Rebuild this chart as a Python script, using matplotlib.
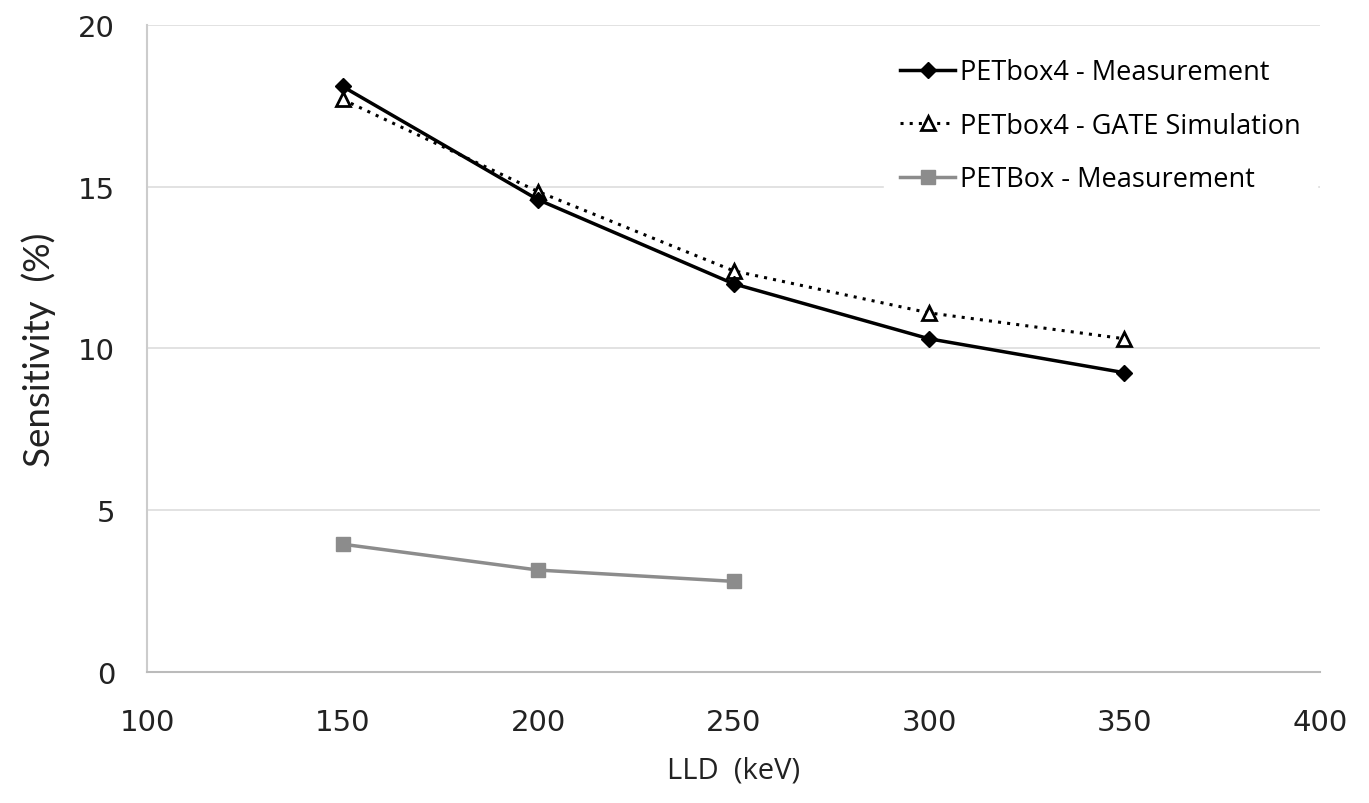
import matplotlib
matplotlib.use("Agg")
import matplotlib.pyplot as plt

# LLD energy thresholds (keV)
lld = [150, 200, 250, 300, 350]
lld_petbox = [150, 200, 250]

# sensitivity (%)
petbox4_meas = [18.1, 14.6, 12.0, 10.3, 9.25]
petbox4_gate = [17.7, 14.85, 12.4, 11.1, 10.3]
petbox_meas = [3.95, 3.15, 2.8]

xticks = [100, 150, 200, 250, 300, 350, 400]
yticks = [0, 5, 10, 15, 20]

fig = plt.figure(figsize=(13.69, 8.04), dpi=100)
ax = fig.add_axes([0.1074, 0.163, 0.8568, 0.8047])

ax.plot(lld, petbox4_meas, color="black", lw=2.5, marker="D", ms=8,
        mfc="black", mec="black", label="PETbox4 - Measurement", zorder=4)
ax.plot(lld, petbox4_gate, color="black", lw=2.2, ls=(0, (1, 2)), marker="^", ms=10,
        mfc="white", mec="black", mew=2.0, label="PETbox4 - GATE Simulation", zorder=3)
ax.plot(lld_petbox, petbox_meas, color="#8c8c8c", lw=2.5, marker="s", ms=10,
        mfc="#8c8c8c", mec="#8c8c8c", label="PETBox - Measurement", zorder=3)

ax.set_xlim(100, 400)
ax.set_ylim(0, 20)
ax.set_xticks(xticks)
ax.set_yticks(yticks)
ax.tick_params(axis="both", length=0, labelsize=21, colors="#222222")
ax.tick_params(axis="y", pad=23)
ax.tick_params(axis="x", pad=26)

ax.grid(axis="y", color="#dddddd", lw=1.2)
ax.set_axisbelow(True)
for s in ["top", "right"]:
    ax.spines[s].set_visible(False)
ax.spines["left"].set_color("#cccccc")
ax.spines["left"].set_linewidth(1.5)
ax.spines["bottom"].set_color("#bbbbbb")
ax.spines["bottom"].set_linewidth(1.5)

ax.set_ylabel("Sensitivity  (%)", fontsize=26.5, family="Lato", color="#222222", labelpad=16)
ax.set_xlabel("LLD  (keV)", fontsize=21, family="Open Sans", color="#222222", labelpad=14)

leg = ax.legend(loc="upper right", bbox_to_anchor=(1.009, 0.995), frameon=True,
                prop={"family": "Open Sans", "size": 19.5}, handlelength=2.0,
                handletextpad=0.2, labelspacing=0.95, borderpad=0.6)
leg.get_frame().set_facecolor("white")
leg.get_frame().set_edgecolor("white")
leg.get_frame().set_alpha(1)

fig.savefig("out.png", dpi=100)
